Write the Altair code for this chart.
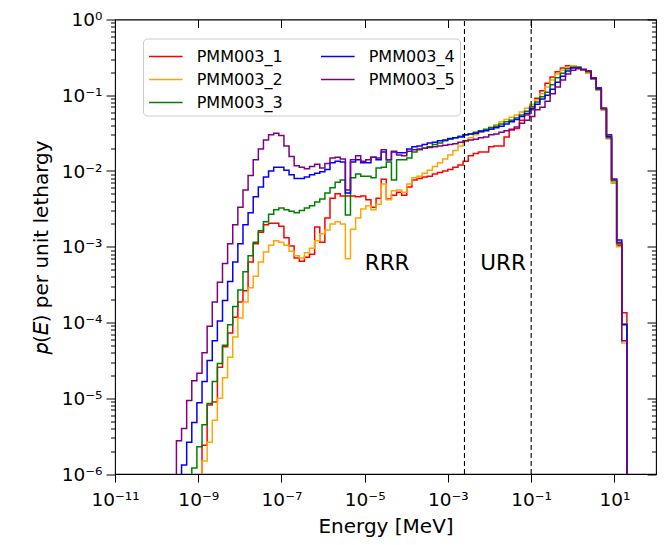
import numpy as np
import pandas as pd
import altair as alt

# ---------------- data ----------------
SERIES = ["PMM003_1", "PMM003_2", "PMM003_3", "PMM003_4", "PMM003_5"]
COLORS = ["#ff0000", "#ffa500", "#008000", "#0000ff", "#800080"]
N_BINS = 100
E_MIN, E_MAX = 1e-11, 20.0          # MeV, histogram range (log-uniform bins)

# log10 p(E) per bin, listed up to the last bin (bin 99); first listed bin = 100 - len
red_log = [
    -5.62, -5.09, -5.05, -4.59, -4.32, -4.14,                                # 17-22
    -3.93, -3.73, -3.58, -3.20, -2.96, -2.81, -2.71, -2.69, -2.69, -2.73,    # 23-32
    -2.88, -2.99, -3.15, -3.19, -3.14, -3.10, -2.74, -2.94, -2.62, -2.36,    # 33-42
    -2.30, -2.33, -2.33, -2.33, -2.34, -2.33, -2.38, -2.48, -2.36, -2.11,    # 43-52
    -2.37, -2.32, -2.28, -2.32, -2.21, -2.12, -2.10, -2.08, -2.07, -2.04,    # 53-62
    -2.02, -2.00, -1.98, -1.95, -1.92, -1.87, -1.80, -1.77, -1.75, -1.75,    # 63-72
    -1.68, -1.67, -1.67, -1.55, -1.46, -1.44, -1.33, -1.26, -1.19, -1.04,    # 73-82
    -0.94, -0.84, -0.76, -0.69, -0.64, -0.61, -0.61, -0.63, -0.67, -0.71,    # 83-92
    -0.79, -0.93, -1.19, -1.57, -2.16, -2.98, -3.87,                         # 93-99
]
orange_log = [
    -5.83, -5.58, -5.29, -5.00, -4.73, -4.46,                                # 17-22
    -4.19, -3.94, -3.73, -3.54, -3.39, -3.20, -3.07, -2.98, -2.92, -2.94,    # 23-32
    -2.98, -3.06, -3.12, -3.15, -3.08, -3.02, -2.92, -2.83, -2.78, -2.70,    # 33-42
    -2.67, -2.70, -3.16, -2.77, -2.62, -2.50, -2.46, -2.51, -2.44, -2.17,    # 43-52
    -2.38, -2.26, -2.25, -2.28, -2.17, -2.09, -2.07, -2.03, -1.99, -1.94,    # 53-62
    -1.89, -1.84, -1.79, -1.73, -1.67, -1.61, -1.56, -1.52, -1.49, -1.46,    # 63-72
    -1.42, -1.39, -1.35, -1.32, -1.29, -1.26, -1.22, -1.17, -1.12, -1.06,    # 73-82
    -0.98, -0.89, -0.80, -0.72, -0.67, -0.63, -0.61, -0.63, -0.67, -0.71,    # 83-92
    -0.79, -0.93, -1.19, -1.57, -2.16, -3.00, -4.27,                         # 93-99
]
green_log = [
    -5.92, -5.64, -5.35, -5.07, -4.78, -4.54, -4.30, -4.03,                  # 15-22
    -3.79, -3.57, -3.33, -3.12, -2.94, -2.79, -2.67, -2.57, -2.51, -2.49,    # 23-32
    -2.51, -2.53, -2.55, -2.52, -2.49, -2.46, -2.41, -2.37, -2.29, -2.22,    # 33-42
    -2.15, -2.12, -2.58, -2.09, -2.04, -2.07, -2.07, -2.09, -1.96, -1.95,    # 43-52
    -1.88, -2.12, -1.85, -1.85, -1.83, -1.75, -1.72, -1.70, -1.68, -1.65,    # 53-62
    -1.63, -1.60, -1.58, -1.56, -1.54, -1.52, -1.51, -1.49, -1.47, -1.45,    # 63-72
    -1.43, -1.41, -1.38, -1.35, -1.33, -1.30, -1.26, -1.21, -1.15, -1.09,    # 73-82
    -1.02, -0.96, -0.86, -0.77, -0.71, -0.65, -0.63, -0.63, -0.66, -0.69,    # 83-92
    -0.78, -0.92, -1.18, -1.56, -2.13, -2.96, -4.02,                         # 93-99
]
blue_log = [
    -5.88, -5.58, -5.32, -5.06, -4.78, -4.50, -4.24, -3.98, -3.71, -3.46,    # 13-22
    -3.20, -2.96, -2.71, -2.55, -2.34, -2.21, -2.08, -2.00, -1.95, -1.95,    # 23-32
    -1.99, -2.05, -2.10, -2.10, -2.08, -2.05, -2.03, -2.01, -1.98, -1.89,    # 33-42
    -1.87, -1.88, -2.29, -1.88, -1.85, -1.89, -1.89, -1.82, -1.85, -1.75,    # 43-52
    -1.85, -1.75, -1.76, -1.76, -1.71, -1.68, -1.67, -1.65, -1.63, -1.62,    # 53-62
    -1.60, -1.59, -1.57, -1.56, -1.55, -1.52, -1.51, -1.50, -1.48, -1.47,    # 63-72
    -1.45, -1.43, -1.41, -1.38, -1.35, -1.32, -1.28, -1.24, -1.17, -1.12,    # 73-82
    -1.05, -1.00, -0.92, -0.83, -0.75, -0.68, -0.64, -0.64, -0.66, -0.68,    # 83-92
    -0.78, -0.91, -1.17, -1.54, -2.11, -2.91, -4.03,                         # 93-99
]
purple_log = [
    -5.56,                                                                   # 12
    -5.40, -5.03, -4.77, -4.67, -4.40, -4.05, -3.73, -3.47, -3.22, -2.96,    # 13-22
    -2.71, -2.48, -2.25, -2.06, -1.85, -1.71, -1.59, -1.52, -1.50, -1.53,    # 23-32
    -1.67, -1.81, -1.93, -1.95, -1.97, -1.94, -1.91, -1.96, -1.90, -1.83,    # 33-42
    -1.82, -1.84, -2.25, -1.85, -1.80, -1.87, -1.85, -1.82, -1.83, -1.72,    # 43-52
    -1.85, -1.74, -1.79, -1.80, -1.74, -1.72, -1.71, -1.70, -1.69, -1.68,    # 53-62
    -1.67, -1.66, -1.65, -1.64, -1.62, -1.60, -1.59, -1.58, -1.56, -1.55,    # 63-72
    -1.52, -1.51, -1.49, -1.47, -1.45, -1.42, -1.37, -1.33, -1.28, -1.19,    # 73-82
    -1.16, -1.08, -0.98, -0.89, -0.80, -0.72, -0.67, -0.65, -0.66, -0.68,    # 83-92
    -0.77, -0.90, -1.17, -1.52, -2.11, -2.94, -4.24,                         # 93-99
]

REGION_BOUNDS = [2.5e-3, 0.1]                 # MeV, RRR/URR limits (dashed lines)
REGION_LABELS = ["RRR", "URR"]
REGION_LABEL_X = [1e-5, 6e-3]
REGION_LABEL_Y = [5e-4, 5e-4]

X_TICKS = [1e-11, 1e-9, 1e-7, 1e-5, 1e-3, 1e-1, 1e1]
Y_MAJOR = [1e-6, 1e-5, 1e-4, 1e-3, 1e-2, 1e-1, 1e0]
Y_MINOR = [m * 10.0 ** k for k in range(-6, 0) for m in range(2, 10)]

# ---------------- table ----------------
edges = np.logspace(np.log10(E_MIN), np.log10(E_MAX), N_BINS + 1)
rows = []
for name, logs in zip(SERIES, [red_log, orange_log, green_log, blue_log, purple_log]):
    start = N_BINS - len(logs)
    rows.append({"series": name, "energy": edges[start - 1], "p": 1e-9})
    for i, v in enumerate(logs):
        rows.append({"series": name, "energy": edges[start + i], "p": 10.0 ** v})
    rows.append({"series": name, "energy": edges[N_BINS], "p": 1e-9})
df = pd.DataFrame(rows)

bounds_df = pd.DataFrame({"energy": REGION_BOUNDS, "lo": [1e-6] * 2, "hi": [1.0] * 2})
text_df = pd.DataFrame({"energy": REGION_LABEL_X, "p": REGION_LABEL_Y, "label": REGION_LABELS})

# ---------------- helpers ----------------
SUP = str.maketrans("-0123456789", "⁻⁰¹²³⁴⁵⁶⁷⁸⁹")
EXP = "round(log(datum.value)/LN10)"
IS_POW = f"abs(datum.value/pow(10,{EXP}) - 1) < 1e-6"


def label_expr(exps):
    expr = "''"
    for k in exps:
        expr = f"(({EXP}) == {k} && {IS_POW}) ? '10{str(k).translate(SUP)}' : ({expr})"
    return expr


FONT = "DejaVu Sans"
xscale = alt.Scale(type="log", domain=[1e-11, 1e2], nice=False)
yscale = alt.Scale(type="log", domain=[1e-6, 1.0], nice=False)

x_bottom = alt.Axis(
    values=X_TICKS, labelExpr=label_expr(range(-11, 3)), orient="bottom",
    tickSize=8, tickColor="black", tickWidth=1, domain=False, grid=False,
    labelFont=FONT, labelFontSize=18.5, labelColor="black", labelPadding=8,
    titleFont=FONT, titleFontSize=20, titleFontWeight="normal", titleColor="black",
    titlePadding=8, labelFlush=False,
)
y_left = alt.Axis(
    values=Y_MAJOR + Y_MINOR, labelExpr=label_expr(range(-6, 1)), orient="left",
    tickSize={"condition": {"test": IS_POW, "value": 9}, "value": 4.5},
    tickColor="black", tickWidth=1, domain=False, grid=False,
    labelFont=FONT, labelFontSize=18.5, labelColor="black", labelPadding=4,
    titleFont=FONT, titleFontSize=20, titleFontWeight="normal", titleColor="black",
    titlePadding=10, labelFlush=False,
)
x_top = alt.Axis(values=X_TICKS, orient="top", tickSize=8, offset=-8, labels=False,
                 domain=False, grid=False, tickColor="black", tickWidth=1, title=None)
y_right_major = alt.Axis(values=Y_MAJOR, orient="right", tickSize=9, offset=-9, labels=False,
                         domain=False, grid=False, tickColor="black", tickWidth=1, title=None)
y_right_minor = alt.Axis(values=Y_MINOR, orient="right", tickSize=4.5, offset=-4.5, labels=False,
                         domain=False, grid=False, tickColor="black", tickWidth=1, title=None)

lines = alt.Chart(df).mark_line(interpolate="step-after", clip=True, strokeWidth=1.5).encode(
    x=alt.X("energy:Q", scale=xscale, axis=x_bottom, title="Energy [MeV]"),
    y=alt.Y("p:Q", scale=yscale, axis=y_left, title="𝑝(𝐸) per unit lethargy"),
    color=alt.Color(
        "series:N",
        scale=alt.Scale(domain=SERIES, range=COLORS),
        legend=alt.Legend(
            title=None, orient="none", legendX=28, legendY=19, columns=2,
            symbolType="M-1,0H1.8", symbolSize=576, symbolStrokeWidth=1.5,
            labelFont=FONT, labelFontSize=16, labelColor="black", labelOffset=22.7,
            rowPadding=2, columnPadding=35, padding=5,
            strokeColor="#cccccc", fillColor="rgba(255,255,255,0.8)", cornerRadius=4,
        ),
    ),
    detail="series:N",
)

rules = alt.Chart(bounds_df).mark_rule(color="black", strokeDash=[5, 3], strokeWidth=1.1).encode(
    x=alt.X("energy:Q", scale=xscale, axis=x_top),
    y=alt.Y("lo:Q", scale=yscale, axis=y_right_major),
    y2="hi:Q",
)

texts = alt.Chart(text_df).mark_text(
    align="left", baseline="alphabetic", font=FONT, fontSize=21.5, color="black"
).encode(
    x=alt.X("energy:Q", scale=xscale, axis=None),
    y=alt.Y("p:Q", scale=yscale, axis=y_right_minor),
    text="label:N",
)

chart = (
    alt.layer(lines, rules, texts)
    .resolve_axis(x="independent", y="independent")
    .properties(
        width=541, height=454.5,
        padding={"left": 107, "top": 11.5, "right": 8, "bottom": 70},
        autosize=alt.AutoSizeParams(type="none"),
        background="white",
    )
    .configure_view(stroke="black", strokeWidth=1.1)
)

chart.save("out.html", embed_options={"renderer": "svg", "actions": False})
